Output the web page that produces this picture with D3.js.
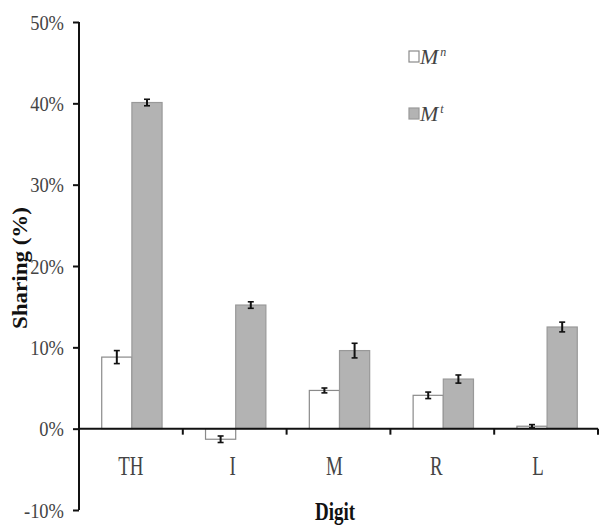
<html>
<head>
  <title>Sharing by digit</title>
  <script src="https://d3js.org/d3.v7.min.js"></script>
  <style>
    body { margin: 0; background: #fff; }
  </style>
</head>
<body>
<script>
// data (percent)
var digits = ["TH", "I", "M", "R", "L"];
var seriesNames = ["n", "t"];
var valuesN = [8.8, -1.3, 4.7, 4.1, 0.3];
var errorsN = [0.8, 0.4, 0.3, 0.4, 0.2];
var valuesT = [40.1, 15.2, 9.6, 6.1, 12.5];
var errorsT = [0.4, 0.4, 0.9, 0.5, 0.6];
var yTicks = [-10, 0, 10, 20, 30, 40, 50];

var serif = "'Liberation Serif', 'Times New Roman', serif";
var width = 612, height = 532;
var svg = d3.select("body").append("svg")
  .attr("width", width).attr("height", height)
  .attr("font-family", serif);

var x = d3.scaleBand().domain(digits).range([79, 598]);
var inner = d3.scaleBand().domain(seriesNames).range([0, x.bandwidth()]).paddingOuter(0.72);
var y = d3.scaleLinear().domain([-10, 50]).range([510, 22]);

var fills = { n: "#ffffff", t: "#b3b3b3" };
var strokes = { n: "#8a8a8a", t: "#999999" };

var rows = [];
digits.forEach(function(d, i) {
  rows.push({ digit: d, s: "n", v: valuesN[i], e: errorsN[i] });
  rows.push({ digit: d, s: "t", v: valuesT[i], e: errorsT[i] });
});

// bars
svg.selectAll("rect.bar").data(rows).enter().append("rect")
  .attr("class", "bar")
  .attr("x", function(d) { return x(d.digit) + inner(d.s) + 1; })
  .attr("width", inner.bandwidth())
  .attr("y", function(d) { return y(Math.max(0, d.v)); })
  .attr("height", function(d) { return Math.abs(y(d.v) - y(0)); })
  .attr("fill", function(d) { return fills[d.s]; })
  .attr("stroke", function(d) { return strokes[d.s]; })
  .attr("stroke-width", 1.2);

// error bars
var eb = svg.selectAll("g.err").data(rows).enter().append("g")
  .attr("transform", function(d) { return "translate(" + (x(d.digit) + inner(d.s) + 1 + inner.bandwidth() / 2) + ",0)"; });
eb.append("line")
  .attr("y1", function(d) { return y(d.v + d.e); })
  .attr("y2", function(d) { return y(d.v - d.e); })
  .attr("stroke", "#111").attr("stroke-width", 2);
eb.append("line").attr("x1", -3).attr("x2", 3)
  .attr("y1", function(d) { return y(d.v + d.e); })
  .attr("y2", function(d) { return y(d.v + d.e); })
  .attr("stroke", "#111").attr("stroke-width", 1.6);
eb.append("line").attr("x1", -3).attr("x2", 3)
  .attr("y1", function(d) { return y(d.v - d.e); })
  .attr("y2", function(d) { return y(d.v - d.e); })
  .attr("stroke", "#111").attr("stroke-width", 1.6);

// y axis
var yAxis = svg.append("g").attr("transform", "translate(79,0)")
  .call(d3.axisLeft(y).tickValues(yTicks).tickSize(6).tickFormat(function(d) { return d + "%"; }))
  .attr("font-family", serif);
yAxis.select(".domain").attr("stroke", "#111").attr("stroke-width", 2).attr("d", "M0," + y(50) + "V" + y(-10));
yAxis.selectAll(".tick line").attr("stroke", "#111").attr("stroke-width", 2);
// labels are a little narrow in the picture
yAxis.selectAll(".tick text")
  .attr("font-size", 21).attr("fill", "#444")
  .attr("x", null).attr("dy", "0.34em")
  .attr("transform", "translate(-15,0) scale(0.88,1)");

// x axis on the zero line
var xAxis = svg.append("g").attr("transform", "translate(0," + y(0) + ")");
xAxis.append("line").attr("x1", 79).attr("x2", 598).attr("stroke", "#111").attr("stroke-width", 2);
xAxis.selectAll("line.tk").data(digits).enter().append("line")
  .attr("class", "tk")
  .attr("x1", function(d) { return x(d) + x.bandwidth(); })
  .attr("x2", function(d) { return x(d) + x.bandwidth(); })
  .attr("y1", 0).attr("y2", 6)
  .attr("stroke", "#111").attr("stroke-width", 2);
xAxis.selectAll("text").data(digits).enter().append("text")
  .attr("transform", function(d, i) { return "translate(" + (x(d) + x.bandwidth() / 2 - 2 * i) + ",46) scale(0.7,1)"; })
  .attr("text-anchor", "middle")
  .attr("font-size", 27).attr("fill", "#444")
  .text(function(d) { return d; });

// axis titles
svg.append("text").attr("transform", "translate(335,520) scale(0.76,1)")
  .attr("text-anchor", "middle").attr("font-size", 25).attr("font-weight", "bold")
  .attr("fill", "#111")
  .text("Digit");
svg.append("text")
  .attr("transform", "translate(27,268) rotate(-90) scale(1.15,1)")
  .attr("text-anchor", "middle").attr("font-size", 20).attr("font-weight", "bold")
  .attr("fill", "#111")
  .text("Sharing (%)");

// legend
var leg = svg.selectAll("g.leg").data(seriesNames).enter().append("g")
  .attr("transform", function(d, i) { return "translate(409," + (51 + i * 57) + ")"; });
leg.append("rect").attr("width", 10).attr("height", 11)
  .attr("fill", function(d) { return fills[d]; })
  .attr("stroke", function(d) { return strokes[d]; }).attr("stroke-width", 1.2);
var lt = leg.append("text").attr("x", 11).attr("y", 13)
  .attr("font-size", 22).attr("font-style", "italic").attr("fill", "#444");
lt.append("tspan").text("M");
lt.append("tspan").attr("dy", -8).attr("dx", 2).attr("font-size", 12).text(function(d) { return d; });
</script>
</body>
</html>
